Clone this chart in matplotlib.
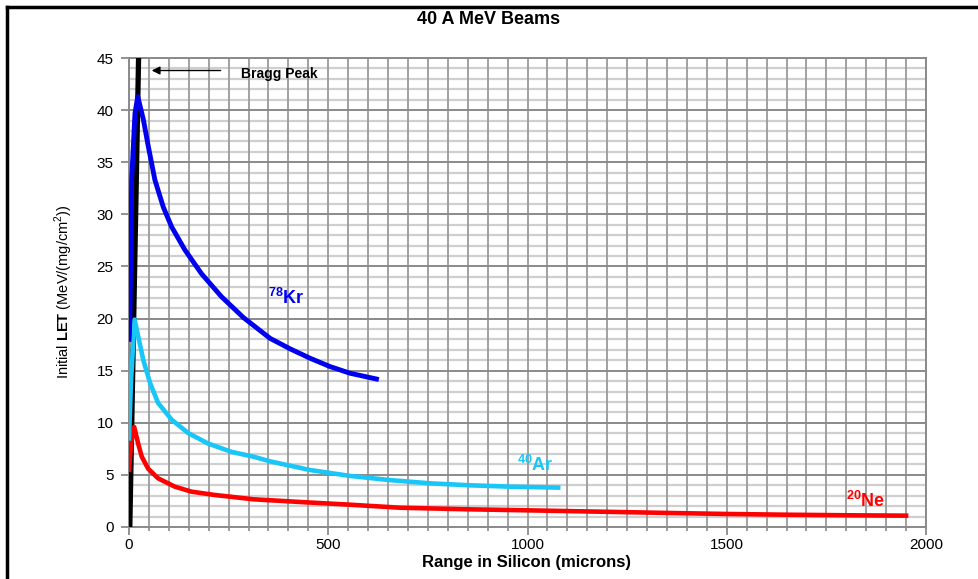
import matplotlib
matplotlib.use("Agg")
import matplotlib.pyplot as plt
from matplotlib.lines import Line2D
from matplotlib.ticker import MultipleLocator

plt.rcParams['font.family'] = ['Liberation Sans', 'DejaVu Sans']
plt.rcParams['mathtext.fontset'] = 'custom'
plt.rcParams['mathtext.rm'] = 'Liberation Sans'
plt.rcParams['mathtext.bf'] = 'Liberation Sans:bold'

# ---- data ----
kr_x = [0, 2.5, 6.7, 15, 22, 36, 48.5, 65, 86, 107, 140, 182, 232, 287, 354, 404, 454, 504, 555, 621]
kr_y = [18, 20.5, 33.3, 39.7, 41.3, 39.1, 36.5, 33.3, 30.7, 28.8, 26.6, 24.3, 22.1, 20.1, 18.1, 17.1, 16.2, 15.4, 14.75, 14.2]

ar_x = [0, 5, 14, 23, 36, 53, 73, 107, 149, 199, 258, 312, 354, 454, 555, 655, 755, 856, 956, 1077]
ar_y = [8.5, 14, 19.9, 18.3, 16.0, 13.8, 11.9, 10.3, 9.0, 8.0, 7.2, 6.75, 6.3, 5.47, 4.9, 4.5, 4.19, 4.0, 3.87, 3.78]

ne_x = [0, 5, 13, 23, 32, 48, 73, 115, 157, 216, 312, 429, 550, 680, 850, 1000, 1182, 1350, 1500, 1650, 1818, 1950]
ne_y = [5.5, 8.0, 9.6, 8.0, 6.75, 5.6, 4.67, 3.87, 3.39, 3.07, 2.66, 2.4, 2.15, 1.85, 1.7, 1.6, 1.47, 1.35, 1.25, 1.18, 1.12, 1.09]

bragg_x = [2, 25]
bragg_y = [0, 47]

x_ticks = [0, 500, 1000, 1500, 2000]
y_ticks = [0, 5, 10, 15, 20, 25, 30, 35, 40, 45]

title = "40 A MeV Beams"
xlabel = "Range in Silicon (microns)"
ylabel = r"Initial $\mathbf{LET}$ (MeV/(mg/cm$^2$))"

# ---- figure ----
W, H = 979, 579
fig = plt.figure(figsize=(W / 100, H / 100), dpi=100)
fig.patch.set_facecolor('white')
ax = fig.add_axes([129 / W, 1 - 527 / H, (926 - 129) / W, (527 - 58) / H])

# grid
for yv in range(0, 46):
    if yv % 5 == 0:
        ax.axhline(yv, color='#8a8a8a', lw=1.4, zorder=1)
    else:
        ax.axhline(yv, color='#cfcfcf', lw=1.6, zorder=0.8)
for xv in range(0, 2001, 50):
    ax.axvline(xv, color='#9a9a9a', lw=1.3, zorder=0.9)

ax.plot(bragg_x, bragg_y, color='black', lw=3.8, zorder=3, solid_capstyle='butt')
ax.plot(ne_x, ne_y, color='#ff0000', lw=3.3, zorder=4, solid_joinstyle='round')
ax.plot(ar_x, ar_y, color='#18c6f8', lw=3.3, zorder=4, solid_joinstyle='round')
ax.plot(kr_x, kr_y, color='#0000ee', lw=3.5, zorder=4, solid_joinstyle='round')

ax.set_xlim(0, 2000)
ax.set_ylim(0, 45)
ax.set_xticks(x_ticks)
ax.set_yticks(y_ticks)
ax.xaxis.set_minor_locator(MultipleLocator(50))
ax.tick_params(axis='both', which='major', direction='out', length=6, width=1.3,
               color='#8a8a8a', labelsize=11, pad=5)
ax.tick_params(axis='x', which='major', pad=2)
ax.tick_params(axis='x', which='minor', direction='out', length=3, width=1.2, color='#8a8a8a')
for s in ax.spines.values():
    s.set_color('#8a8a8a')
    s.set_linewidth(1.4)

# labels on curves
ax.text(349, 22, r"$^{\mathbf{78}}$Kr", color='#0000ee', fontsize=13, fontweight='bold',
        ha='left', va='center', zorder=5)
ax.text(974, 6.0, r"$^{\mathbf{40}}$Ar", color='#18c6f8', fontsize=13, fontweight='bold',
        ha='left', va='center', zorder=5)
ax.text(1800, 2.5, r"$^{\mathbf{20}}$Ne", color='#ff0000', fontsize=13, fontweight='bold',
        ha='left', va='center', zorder=5)

ax.annotate("", xy=(50, 43.8), xytext=(237, 43.8),
            arrowprops=dict(arrowstyle='-|>', color='black', lw=1.0, mutation_scale=12),
            zorder=5)
ax.text(282, 43.5, "Bragg Peak", fontsize=10, fontweight='bold', ha='left', va='center', zorder=5)

fig.text(489 / W, 1 - 20 / H, title, fontsize=13, fontweight='bold', ha='center', va='center')
fig.text(527 / W, 1 - 562 / H, xlabel, fontsize=12, fontweight='bold', ha='center', va='center')
fig.text(64 / W, 1 - 292 / H, ylabel, fontsize=10.5, rotation=90, ha='center', va='center')

# outer frame (top and left edges)
fig.add_artist(Line2D([7 / W, 1.0], [1 - 7 / H, 1 - 7 / H], color='black', lw=2.5, transform=fig.transFigure))
fig.add_artist(Line2D([7 / W, 7 / W], [0, 1 - 7 / H], color='black', lw=2.5, transform=fig.transFigure))

fig.savefig("out.png", dpi=100)
